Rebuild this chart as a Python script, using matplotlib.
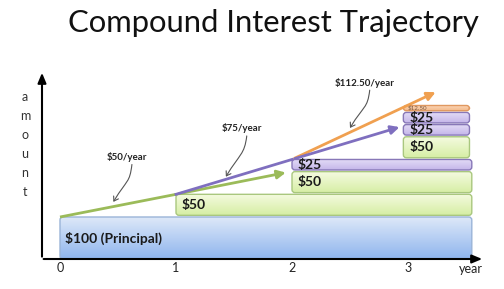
import numpy as np
import matplotlib
matplotlib.use("Agg")
import matplotlib.pyplot as plt
from matplotlib.patches import FancyBboxPatch, FancyArrowPatch
from matplotlib.path import Path
from matplotlib.colors import LinearSegmentedColormap

plt.rcParams['font.family'] = ['Lato', 'DejaVu Sans']

# ---- data ----
years = [0, 1, 2, 3]
tick_labels = ["0", "1", "2", "3"]
# boxes stacked in order
box_start = [0, 1, 2, 2, 3, 3, 3, 3]
box_amount = [100, 50, 50, 25, 50, 25, 25, 12.5]
box_label = ["$100 (Principal)", "$50", "$50", "$25", "$50", "$25", "$25", "$12.50"]
box_kind = ["blue", "green", "green", "purple", "green", "purple", "purple", "orange"]
rate_labels = ["$50/year", "$75/year", "$112.50/year"]

end_year = 3.55
gap = 4.0

PXX = 116.0   # px per year
PXY = 0.42    # px per $
aspect = PXX / PXY

fig = plt.figure(figsize=(5.04, 2.89), dpi=100)
ax = fig.add_axes([0, 0, 1, 1])
ax.set_xlim(-60 / PXX, (504 - 60) / PXX)
ax.set_ylim((259 - 289) / PXY, 259 / PXY)
ax.axis('off')

grad = {
    "blue": ("#dde8f8", "#8fb5ee", "#9ab4d8"),
    "green": ("#f4fadf", "#d6eea4", "#a9c77e"),
    "purple": ("#e4dcf6", "#c4b6ea", "#8878b8"),
    "orange": ("#fbd7b8", "#f4b888", "#e09860"),
}

bottoms = []
cur = 0.0
for i, a in enumerate(box_amount):
    b = cur + (gap if i > 0 else 0)
    bottoms.append(b)
    cur = b + a
tops = [b + a for b, a in zip(bottoms, box_amount)]

r = 3.0 / PXX
for s, a, b, lab, k in zip(box_start, box_amount, bottoms, box_label, box_kind):
    x0 = 2.96 if s == 3 else s
    w = (end_year if s < 3 else 3.53) - x0
    c1, c2, ec = grad[k]
    p = FancyBboxPatch((x0, b), w, a, boxstyle=f"round,pad=0,rounding_size={r}",
                       mutation_aspect=aspect, facecolor="none", edgecolor=ec,
                       linewidth=1.0, zorder=3)
    ax.add_patch(p)
    cmap = LinearSegmentedColormap.from_list("g", [c2, c1])
    g = np.linspace(0, 1, 64).reshape(-1, 1)
    im = ax.imshow(g, cmap=cmap, extent=[x0, x0 + w, b, b + a], origin="lower",
                   aspect="auto", zorder=2, interpolation="bilinear")
    im.set_clip_path(p)
    if k == "orange":
        ax.text(x0 + 0.04, b + a / 2, lab, fontsize=4.5, color="#7a5a40",
                va="center", ha="left", zorder=5)
    elif k == "blue":
        ax.text(x0 + 0.04, b + a * 0.5, lab, fontsize=10, fontweight="bold",
                color="#1a1a1a", va="center", ha="left", zorder=5)
    else:
        ax.text(x0 + 0.05, b + a / 2, lab, fontsize=10,
                fontweight="bold", color="#1a1a1a", va="center", ha="left", zorder=5)

# trajectories
green_c, purple_c, orange_c = "#9bbb59", "#7f6fbf", "#f0a050"
ax.plot([0, 1], [tops[0], tops[1]], color=green_c, lw=2, zorder=4, solid_capstyle="butt")
ax.annotate("", xy=(1.97, tops[2] - 1), xytext=(1, tops[1]),
            arrowprops=dict(arrowstyle="-|>,head_length=0.5,head_width=0.25", color=green_c, lw=2),
            zorder=4)
ax.plot([1, 2], [tops[1], tops[3]], color=purple_c, lw=2, zorder=4)
ax.annotate("", xy=(2.95, tops[5] - 4), xytext=(2, tops[3]),
            arrowprops=dict(arrowstyle="-|>,head_length=0.5,head_width=0.25", color=purple_c, lw=2),
            zorder=4)
ax.annotate("", xy=(3.26, 400), xytext=(2, tops[3]),
            arrowprops=dict(arrowstyle="-|>,head_length=0.5,head_width=0.25", color=orange_c, lw=2),
            zorder=3.5)

# rate labels with curly arrows
rate_pos = [(0.58, 243), (1.57, 311), (2.63, 420)]
rate_tip = [(0.46, 136), (1.43, 196), (2.50, 312)]
for lab, (tx, ty), (hx, hy) in zip(rate_labels, rate_pos, rate_tip):
    ax.text(tx, ty, lab, fontsize=7, fontweight="bold", color="#222222",
            ha="center", va="center", zorder=6)
    sx, sy = tx + 0.04, ty - 18
    verts = [(sx, sy), (sx - 0.02, sy - 45), (hx + 0.12, hy + 55), (hx, hy)]
    path = Path(verts, [Path.MOVETO, Path.CURVE4, Path.CURVE4, Path.CURVE4])
    arr = FancyArrowPatch(path=path, arrowstyle="->,head_length=3,head_width=2",
                          color="#555555", lw=0.8, zorder=6)
    ax.add_patch(arr)

# axes arrows
ax0 = (42 - 60) / PXX
ax.annotate("", xy=(ax0, (259 - 70) / PXY), xytext=(ax0, -1),
            arrowprops=dict(arrowstyle="-|>,head_length=0.6,head_width=0.25", color="black", lw=1.5))
ax.annotate("", xy=((485 - 60) / PXX, 0), xytext=(ax0 - 0.01, 0),
            arrowprops=dict(arrowstyle="-|>,head_length=0.6,head_width=0.25", color="black", lw=1.5))

for yv, t in zip(years, tick_labels):
    ax.text(yv, (259 - 268) / PXY, t, fontsize=9, ha="center", va="center", color="#222222")
ax.text((471 - 60) / PXX, (259 - 269) / PXY, "year", fontsize=9, ha="center", va="center", color="#222222")

for i, ch in enumerate("amount"):
    ax.text((25 - 60) / PXX, (259 - (97 + 19 * i)) / PXY, ch, fontsize=9,
            ha="center", va="center", color="#333333")

fig.text(273 / 504, 1 - 23 / 289, "Compound Interest Trajectory", fontsize=22.3,
         ha="center", va="center", color="#111111")

fig.savefig("out.png", dpi=100)
